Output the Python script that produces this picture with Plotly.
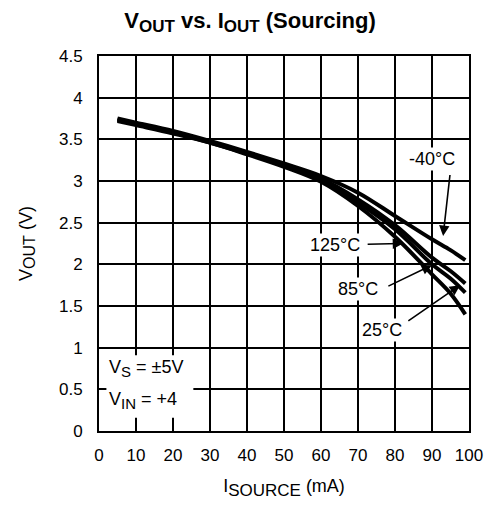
import plotly.graph_objects as go

i_source = [5, 10, 20, 30, 40, 50, 60, 70, 80, 90, 95, 99]
v_m40 = [3.75, 3.70, 3.60, 3.48, 3.35, 3.21, 3.06, 2.86, 2.58, 2.30, 2.17, 2.05]
v_25 = [3.74, 3.69, 3.59, 3.47, 3.34, 3.19, 3.03, 2.78, 2.47, 2.08, 1.92, 1.77]
v_85 = [3.73, 3.68, 3.58, 3.46, 3.33, 3.18, 3.01, 2.74, 2.42, 2.00, 1.83, 1.66]
v_125 = [3.72, 3.67, 3.57, 3.46, 3.32, 3.17, 2.99, 2.70, 2.33, 1.88, 1.65, 1.40]

x_ticks = list(range(0, 101, 10))
y_ticks = [0, 0.5, 1, 1.5, 2, 2.5, 3, 3.5, 4, 4.5]
y_tick_labels = ["0", "0.5", "1", "1.5", "2", "2.5", "3", "3.5", "4", "4.5"]

FONT = "Liberation Sans, Arial, sans-serif"


def sub(t, size):
    return f"<sub><span style='font-size:{size}px'>{t}</span></sub>"


fig = go.Figure()
for name, v in [("-40°C", v_m40), ("25°C", v_25), ("85°C", v_85), ("125°C", v_125)]:
    fig.add_trace(go.Scatter(x=i_source, y=v, mode="lines", name=name,
                             line=dict(color="black", width=4, shape="spline"),
                             showlegend=False))

# white box behind the condition text
fig.add_shape(type="rect", xref="x", yref="y", x0=2, x1=25.5, y0=0.16, y1=0.91,
              fillcolor="white", line=dict(width=0), layer="between")

anns = [
    dict(text="-40°C", x=90.0, y=3.27, ax=93.0, ay=2.34, tx=94.9, ty=3.09),
    dict(text="125°C", x=63.8, y=2.23, ax=82.2, ay=2.25, tx=72.2, ty=2.24),
    dict(text="85°C", x=70.0, y=1.71, ax=90.0, ay=1.99, tx=77.8, ty=1.73),
    dict(text="25°C", x=76.5, y=1.21, ax=97.6, ay=1.75, tx=83.2, ty=1.31),
]
for a in anns:
    fig.add_annotation(x=a["x"], y=a["y"], xref="x", yref="y", text=a["text"],
                       showarrow=False, bgcolor="white", borderpad=1,
                       font=dict(family=FONT, size=18, color="black"))
for a in anns:
    fig.add_annotation(x=a["ax"], y=a["ay"], ax=a["tx"], ay=a["ty"], xref="x", yref="y",
                       axref="x", ayref="y", text="", showarrow=True,
                       arrowhead=2, arrowsize=1.3, arrowwidth=1.6, arrowcolor="black")

fig.add_annotation(x=2.2, y=0.755, xref="x", yref="y", xanchor="left",
                   text="V" + sub("S", 15) + " = ±5V", showarrow=False,
                   font=dict(family=FONT, size=18, color="black"))
fig.add_annotation(x=2.2, y=0.37, xref="x", yref="y", xanchor="left",
                   text="V" + sub("IN", 15) + " = +4", showarrow=False,
                   font=dict(family=FONT, size=18, color="black"))

# page body has an 8px margin, so margins are reduced by 8 on left/top
fig.update_layout(
    width=496, height=514,
    margin=dict(l=91, r=35, t=48, b=91),
    paper_bgcolor="white", plot_bgcolor="white",
    font=dict(family=FONT, size=17, color="black"),
    title=dict(text="<b>V" + sub("OUT", 17) + " vs. I" + sub("OUT", 17) + " (Sourcing)</b>",
               x=(250 - 8) / 496, xref="container", xanchor="center",
               y=1 - (20 - 8) / 514, yref="container", yanchor="middle",
               font=dict(family=FONT, size=22, color="black")),
)
fig.update_xaxes(range=[0, 100], tickvals=x_ticks, ticktext=[str(t) for t in x_ticks],
                 showgrid=True, gridcolor="black", gridwidth=1.5,
                 showline=True, linecolor="black", linewidth=2, mirror=True,
                 zeroline=False, ticks="", ticklen=0, ticklabelstandoff=8,
                 title=dict(text="I" + sub("SOURCE", 17) + " (mA)", standoff=15,
                            font=dict(family=FONT, size=18)),
                 tickfont=dict(family=FONT, size=17))
fig.update_yaxes(range=[0, 4.5], tickvals=y_ticks, ticktext=y_tick_labels,
                 showgrid=True, gridcolor="black", gridwidth=1.5,
                 showline=True, linecolor="black", linewidth=2, mirror=True,
                 zeroline=False, ticks="", ticklen=0, ticklabelstandoff=11,
                 title=dict(text="V" + sub("OUT", 16) + " (V)", standoff=22,
                            font=dict(family=FONT, size=18)),
                 tickfont=dict(family=FONT, size=17))

fig.write_html("out.html")
